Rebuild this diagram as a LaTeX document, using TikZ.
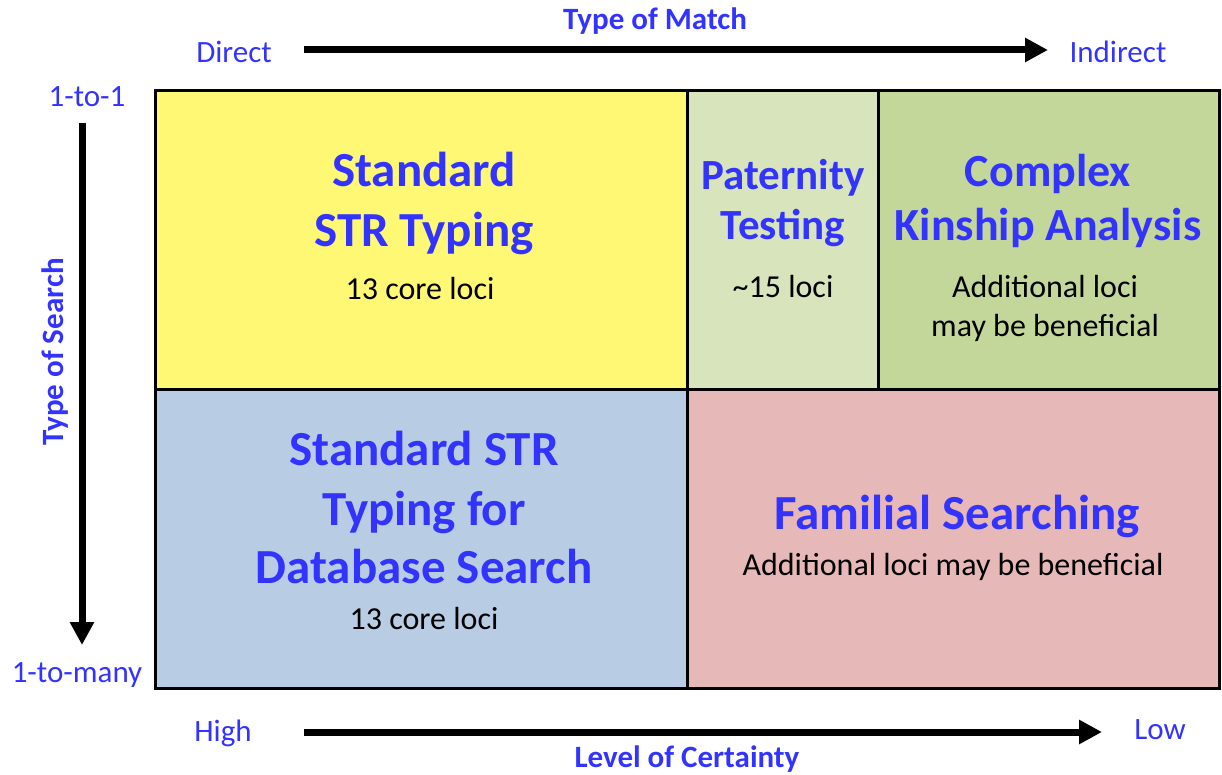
\documentclass[tikz,border=0pt]{standalone}
\usepackage{fontspec}
\setmainfont{Carlito}
\usetikzlibrary{positioning, arrows.meta}
\definecolor{labelblue}{RGB}{51,51,255}
\definecolor{stryellow}{RGB}{255,248,117}
\definecolor{patgreen}{RGB}{216,228,188}
\definecolor{kingreen}{RGB}{196,215,155}
\definecolor{dbblue}{RGB}{184,204,228}
\definecolor{fampink}{RGB}{230,184,183}

\begin{document}
\begin{tikzpicture}[x=1pt, y=-1pt,
      cell/.style={draw=black, line width=3pt},
      title/.style={font=\fontsize{49}{59}\selectfont\bfseries, text=labelblue, inner sep=0pt, anchor=base},
      smalltitle/.style={title, font=\fontsize{43}{50}\selectfont\bfseries},
      midtitle/.style={title, font=\fontsize{46}{54}\selectfont\bfseries},
      note/.style={font=\fontsize{32}{38}\selectfont, inner sep=0pt, anchor=base},
      axis/.style={font=\fontsize{31}{38}\selectfont, text=labelblue, inner sep=0pt, anchor=base},
      axistitle/.style={axis, font=\fontsize{31}{38}\selectfont\bfseries},
      bigarr/.style={-{Triangle[length=23pt, width=23pt]}, line width=7pt},
    ]
      \useasboundingbox (0,0) rectangle (1222,775);
      % cells
      \filldraw[cell, fill=stryellow] (155,91) rectangle (687,389);
      \filldraw[cell, fill=patgreen]  (687,91) rectangle (878,389);
      \filldraw[cell, fill=kingreen]  (878,91) rectangle (1219,389);
      \filldraw[cell, fill=dbblue]    (155,389) rectangle (687,688);
      \filldraw[cell, fill=fampink]   (687,389) rectangle (1219,688);
      % standard typing
      \node[title] (std1) at (424,187) {Standard};
      \node[title] (std2) at (424,247) {STR Typing};
      \node[note]  (stdn) at (420,299) {13 core loci};
      % paternity
      \node[smalltitle] (pat1) at (783,190) {Paternity};
      \node[smalltitle] (pat2) at (783,240) {Testing};
      \node[note]  (patn) at (783,298) {\char`\~15 loci};
      % kinship
      \node[midtitle] (kin1) at (1048,187) {Complex};
      \node[midtitle] (kin2) at (1048,241) {Kinship Analysis};
      \node[note]  (kinn1) at (1045,298) {Additional loci};
      \node[note]  (kinn2) at (1045,336) {may be beneficial};
      % database search
      \node[title] (db1) at (424,465) {Standard STR};
      \node[title] (db2) at (424,525) {Typing for};
      \node[title] (db3) at (424,583) {Database Search};
      \node[note]  (dbn) at (424,629) {13 core loci};
      % familial
      \node[title] (fam1) at (957,529) {Familial Searching};
      \node[note]  (famn) at (953,575) {Additional loci may be beneficial};
      % type of match
      \node[axistitle] (match) at (655,30) {Type of Match};
      \node[axis] (direct) at (234,63) {Direct};
      \node[axis] (indirect) at (1118,63) {Indirect};
      \coordinate (m0) at (304,50);
      \coordinate (m1) at (1048,50);
      \draw[bigarr] (m0) -- (m1);
      % type of search
      \node[axis] (one) at (87,107) {1-to-1};
      \node[axis] (many) at (77,682) {1-to-many};
      \node[axistitle, rotate=90, anchor=center] (search) at (55,352) {Type of Search};
      \coordinate (s0) at (82,123);
      \coordinate (s1) at (82,645);
      \draw[bigarr] (s0) -- (s1);
      % level of certainty
      \node[axis] (high) at (223,741) {High};
      \node[axis] (low) at (1160,739) {Low};
      \node[axistitle] (cert) at (687,767) {Level of Certainty};
      \coordinate (c0) at (304,732);
      \coordinate (c1) at (1102,732);
      \draw[bigarr] (c0) -- (c1);
    \end{tikzpicture}
\end{document}
